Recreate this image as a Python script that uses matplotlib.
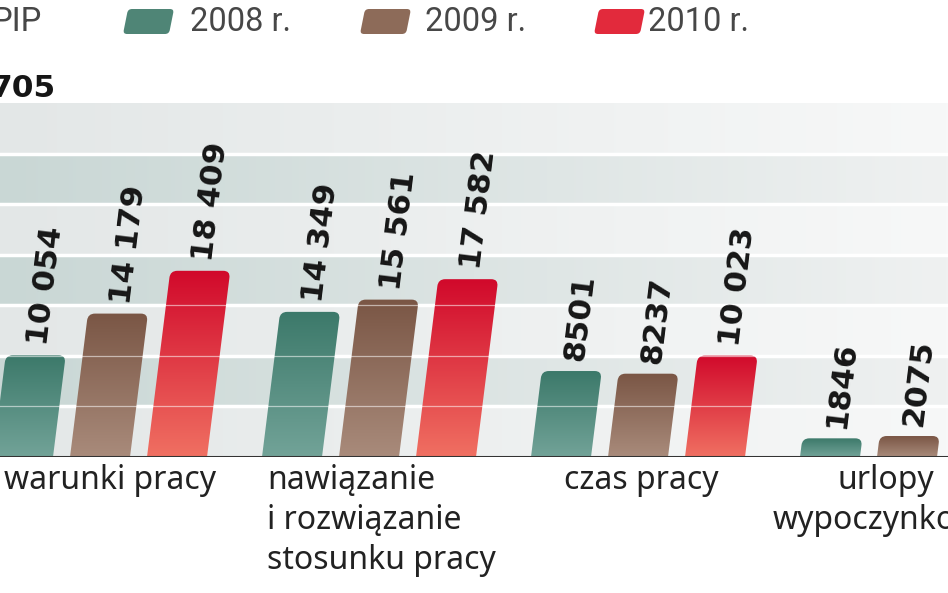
import numpy as np
import matplotlib.pyplot as plt
from matplotlib.path import Path
from matplotlib.patches import PathPatch
from matplotlib.colors import to_rgb

categories = ['warunki pracy', 'nawiązanie\ni rozwiązanie\nstosunku pracy', 'czas pracy', 'urlopy\nwypoczynkowe']
years = ['2008 r.', '2009 r.', '2010 r.']
v2008 = [10054, 14349, 8501, 1846]
v2009 = [14179, 15561, 8237, 2075]
v2010 = [18409, 17582, 10023, 2400]  # last value is cut off in the source crop
series = [v2008, v2009, v2010]

# bar gradients, top colour -> bottom colour
grad = [('#3c796a', '#72a398'), ('#7a5645', '#a98b7b'), ('#d1092b', '#f07062')]
swatch = ['#4f8576', '#8d6b59', '#e22a3c']

W, H = 948, 593
fig = plt.figure(figsize=(W / 100, H / 100), dpi=100)
fig.patch.set_facecolor('white')
ax = fig.add_axes([0, (H - 457) / H, 1, 354 / H])
ax.set_xlim(-100 / 269, (W - 100) / 269)
ax.set_ylim(0, 35000)
ax.set_autoscale_on(False)
ax.axis('off')


def rounded_poly(pts, radii):
    pts = [np.asarray(p, float) for p in pts]
    n = len(pts)
    verts, codes = [], []
    for i in range(n):
        p, prev, nxt = pts[i], pts[i - 1], pts[(i + 1) % n]
        r = radii[i]
        if r == 0:
            verts.append(p)
            codes.append(Path.LINETO)
        else:
            a = p + (prev - p) / np.hypot(*(prev - p)) * r
            b = p + (nxt - p) / np.hypot(*(nxt - p)) * r
            verts += [a, p, b]
            codes += [Path.LINETO, Path.CURVE3, Path.CURVE3]
    codes[0] = Path.MOVETO
    verts.append(verts[0])
    codes.append(Path.CLOSEPOLY)
    return np.array(verts), codes


# background bands with a fade to the right
x0, x1 = ax.get_xlim()
fade = np.linspace(0, 1, 400)[:, None]
dark = np.array(to_rgb('#c9d7d5')), np.array(to_rgb('#eff1f1'))
light = np.array(to_rgb('#e3e7e7')), np.array(to_rgb('#f7f8f8'))
bands = np.zeros((7, 400, 3))
for i in range(7):
    l, r = light if i % 2 == 0 else dark
    bands[i] = l + (r - l) * fade
ax.imshow(bands, extent=(x0, x1, 0, 35000), aspect='auto', origin='upper',
          interpolation='nearest', zorder=0)
for y in range(5000, 35000, 5000):
    ax.axhline(y, color='white', lw=2.5, zorder=1)

bar_step = 77 / 269
bar_w = 60 / 269
slant = 0.125
to_data = ax.transData.inverted()
vgrad = np.linspace(0, 1, 256)[:, None, None]

for s, vals in enumerate(series):
    top_c, bot_c = np.array(to_rgb(grad[s][0])), np.array(to_rgb(grad[s][1]))
    for g, v in enumerate(vals):
        xl = g + (s - 1) * bar_step - bar_w / 2
        bl, br, tp = ax.transData.transform([(xl, 0), (xl + bar_w, 0), (xl, v)])
        dx = slant * (tp[1] - bl[1])
        tl = (bl[0] + dx, tp[1])
        tr = (br[0] + dx, tp[1])
        rr = min(7, (tp[1] - bl[1]) / 2)
        verts, codes = rounded_poly([bl, br, tr, tl], [0, 0, rr, rr])
        dverts = to_data.transform(verts)
        patch = PathPatch(Path(dverts, codes), fc='none', ec='none', zorder=2)
        ax.add_patch(patch)
        img = top_c + (bot_c - top_c) * vgrad
        im = ax.imshow(img, extent=(dverts[:, 0].min(), dverts[:, 0].max(), 0, v),
                       aspect='auto', origin='upper', interpolation='bilinear', zorder=2)
        im.set_clip_path(patch)
        # value label
        lab = f'{v:,}'.replace(',', ' ') if v >= 10000 else str(v)
        ax_pt = ((tl[0] + tr[0]) / 2 + 2 + slant * 10, tp[1] + 10)
        lx, ly = to_data.transform(ax_pt)
        ax.text(lx, ly, lab, rotation=83, rotation_mode='anchor', ha='left', va='center',
                fontsize=22.5, fontweight='bold', family='DejaVu Sans', color='#161616', zorder=5)

for y in range(5000, 35000, 5000):
    ax.axhline(y, color='white', lw=0.9, alpha=0.55, zorder=3)
ax.axhline(0, color='#333333', lw=2.2, zorder=4)

# category labels under the groups
lab_dx = [0.037, -0.378, 0.011, -0.08]
lab_ha = ['center', 'left', 'center', 'center']
for g, name in enumerate(categories):
    ax.annotate(name, (g + lab_dx[g], 0), xytext=(0, -5), textcoords='offset points',
                ha=lab_ha[g], va='top', multialignment=lab_ha[g] if lab_ha[g] == 'left' else 'center',
                fontsize=23, family='Noto Sans', color='#222222', linespacing=1.28,
                annotation_clip=False)

# legend along the top
leg_x = [123, 360, 594]
txt_x = [190, 425, 648]
for i in range(3):
    xa = leg_x[i]
    pts = [(xa, H - 34), (xa + 46, H - 34), (xa + 51, H - 9), (xa + 5, H - 9)]
    verts, codes = rounded_poly(pts, [4, 4, 4, 4])
    verts = verts / np.array([W, H])
    fig.add_artist(PathPatch(Path(verts, codes), fc=swatch[i], ec='none',
                             transform=fig.transFigure))
    fig.text(txt_x[i] / W, 1 - 22 / H, years[i], ha='left', va='center',
             fontsize=23.5, family='Roboto', color='#474747')
fig.text(42 / W, 1 - 22 / H, 'PIP', ha='right', va='center',
         fontsize=23.5, family='Roboto', color='#474747')
fig.text(56 / W, 1 - 88 / H, '705', ha='right', va='center',
         fontsize=22.5, fontweight='bold', family='DejaVu Sans', color='#161616')

fig.savefig('out.png', dpi=100)
